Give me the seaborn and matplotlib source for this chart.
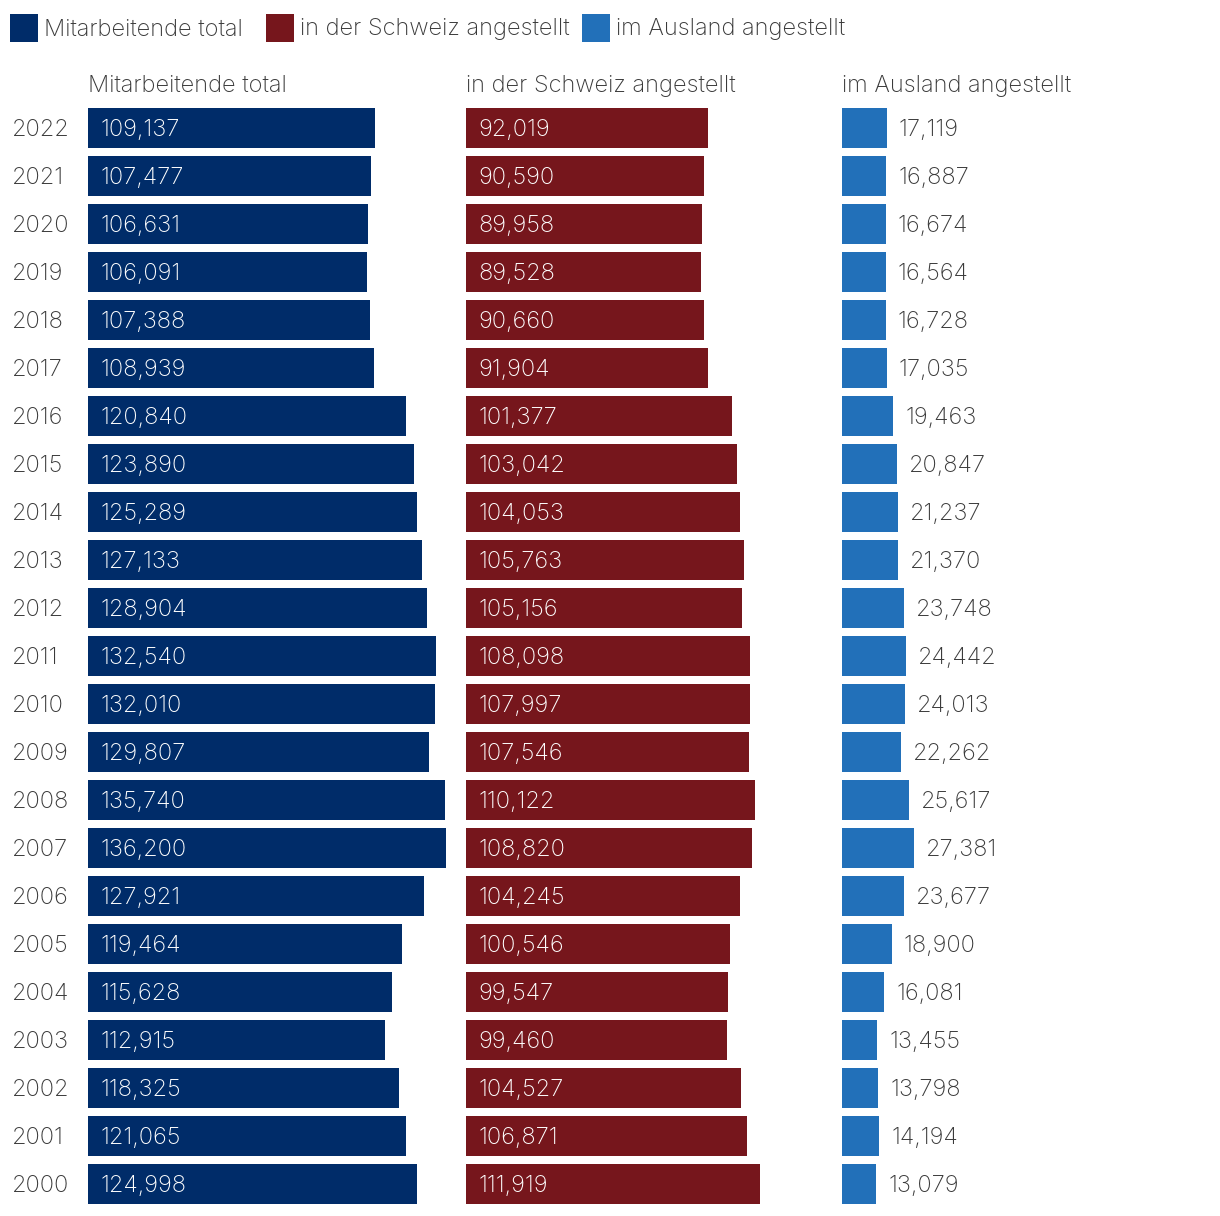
import matplotlib
matplotlib.use("Agg")
import matplotlib.pyplot as plt
import seaborn as sns
import pandas as pd
from matplotlib.patches import Rectangle

years = [2022, 2021, 2020, 2019, 2018, 2017, 2016, 2015, 2014, 2013, 2012,
         2011, 2010, 2009, 2008, 2007, 2006, 2005, 2004, 2003, 2002, 2001, 2000]
total = [109137, 107477, 106631, 106091, 107388, 108939, 120840, 123890, 125289,
         127133, 128904, 132540, 132010, 129807, 135740, 136200, 127921, 119464,
         115628, 112915, 118325, 121065, 124998]
schweiz = [92019, 90590, 89958, 89528, 90660, 91904, 101377, 103042, 104053,
           105763, 105156, 108098, 107997, 107546, 110122, 108820, 104245, 100546,
           99547, 99460, 104527, 106871, 111919]
ausland = [17119, 16887, 16674, 16564, 16728, 17035, 19463, 20847, 21237, 21370,
           23748, 24442, 24013, 22262, 25617, 27381, 23677, 18900, 16081, 13455,
           13798, 14194, 13079]
series_names = ["Mitarbeitende total", "in der Schweiz angestellt", "im Ausland angestellt"]
colors = ["#002c69", "#76161c", "#2270b9"]

sns.set_theme(style="white")
plt.rcParams["font.family"] = ["Inter", "DejaVu Sans"]

W, H = 1220, 1216
fig = plt.figure(figsize=(W / 100, H / 100), dpi=100)
txt = "#3a3a3a"
fs = 17
fw = "light"

df = pd.DataFrame({"year": [str(y) for y in years], "total": total,
                   "schweiz": schweiz, "ausland": ausland})
order = [str(y) for y in years]
cols = ["total", "schweiz", "ausland"]
lefts = [88, 466, 842]
pw = 376
k = 358 / 136200
xmax = pw / k
top, bottom = 104, 1208
dy = 0.04

for i, (c, name, col) in enumerate(zip(cols, series_names, colors)):
    ax = fig.add_axes([lefts[i] / W, (H - bottom) / H, pw / W, (bottom - top) / H])
    sns.barplot(data=df, x=c, y="year", order=order, color=col, orient="h",
                width=40 / 48, saturation=1, linewidth=0, ax=ax)
    ax.set_xlim(0, xmax)
    ax.set_ylim(len(years) - 0.5, -0.5)
    ax.set_xlabel("")
    ax.set_ylabel("")
    ax.set_xticks([])
    ax.set_yticks([])
    for s in ax.spines.values():
        s.set_visible(False)
    ax.text(0, -0.88, name, fontsize=fs, color=txt, ha="left", va="center",
            fontweight=fw)
    vals = df[c].tolist()
    off = 12 / k
    for j, v in enumerate(vals):
        lab = f"{v:,}"
        if i < 2:
            ax.text(off, j + dy, lab, color="white", fontsize=fs, ha="left",
                    va="center", fontweight=fw)
        else:
            ax.text(v + off, j + dy, lab, color=txt, fontsize=fs, ha="left",
                    va="center", fontweight=fw)
        if i == 0:
            ax.text(-76 / k, j + dy, order[j], color=txt, fontsize=fs, ha="left",
                    va="center", fontweight=fw, clip_on=False)

# legend
lx = [10, 266, 582]
for x, name, col in zip(lx, series_names, colors):
    fig.patches.append(Rectangle((x / W, (H - 42) / H), 28 / W, 28 / H,
                                 transform=fig.transFigure, color=col, lw=0))
    fig.text((x + 34) / W, (H - 29.5) / H, name, fontsize=fs, color=txt,
             ha="left", va="center", fontweight=fw)

fig.savefig("out.png", dpi=100)
